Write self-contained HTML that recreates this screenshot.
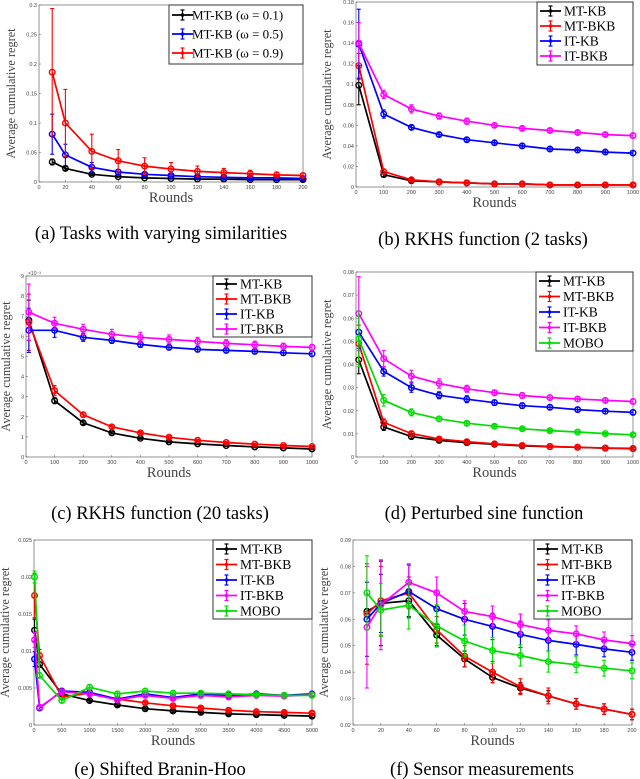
<!DOCTYPE html>
<html><head><meta charset="utf-8">
<style>
body{margin:0;background:#fff;}
svg{display:block;font-family:"Liberation Serif",serif;}
</style></head>
<body>
<svg id="fig" width="640" height="779" viewBox="0 0 640 779" xmlns="http://www.w3.org/2000/svg"></svg>
<script>
const COL={"MT-KB":"#000","MT-BKB":"#f00","IT-KB":"#00f","IT-BKB":"#f0f","MOBO":"#0d0"};
// (a)
const aX=[10,20,40,60,80,100,120,140,160,180,200];
const aRed=[.186,.100,.052,.036,.027,.022,.018,.016,.014,.012,.011];
const aRedErr=[.108,.057,.029,.019,.014,.011,.009,.007,.006,.005,.004];
const aBlue=[.081,.046,.025,.017,.013,.011,.009,.008,.007,.007,.006];
const aBlueErr=[.034,.018,.008,.004,.003,.002,.002,.002,.002,.002,.002];
const aBlack=[.034,.023,.013,.009,.007,.006,.005,.005,.004,.004,.004];
const aBlackErr=[.005,.003,.002,.001,.001,.001,.001,.001,.001,.001,.001];
const aTicksX=[0,20,40,60,80,100,120,140,160,180,200];
const aTicksY=[0,.05,.1,.15,.2,.25,.3];
// (b)
const bX=[10,100,200,300,400,500,600,700,800,900,1000];
const bBlack=[.099,.012,.006,.005,.004,.003,.003,.002,.002,.002,.002];
const bRed=[.118,.015,.007,.005,.004,.003,.003,.002,.002,.002,.002];
const bBlue=[.139,.071,.058,.051,.046,.043,.040,.037,.036,.034,.033];
const bMag=[.140,.090,.076,.069,.064,.060,.057,.055,.053,.051,.050];
const bBlackErr=[.019,.002,.001,.001,.001,.001,.001,.001,.001,.001,.001];
const bRedErr=[.012,.002,.001,.001,.001,.001,.001,.001,.001,.001,.001];
const bBlueErr=[.034,.004,.002,.002,.002,.002,.002,.002,.002,.002,.002];
const bMagErr=[.02,.004,.004,.003,.003,.002,.002,.002,.002,.002,.002];
const bTicksX=[0,100,200,300,400,500,600,700,800,900,1000];
const bTicksY=[0,.02,.04,.06,.08,.1,.12,.14,.16,.18];
// (c) units 1e-3
const cBlack=[6.8,2.8,1.7,1.2,.93,.75,.65,.57,.5,.45,.4];
const cRed=[6.7,3.3,2.1,1.5,1.2,.98,.83,.72,.64,.57,.52];
const cBlue=[6.3,6.3,5.95,5.8,5.6,5.45,5.35,5.3,5.25,5.18,5.13];
const cMag=[7.2,6.65,6.35,6.1,5.95,5.85,5.75,5.65,5.58,5.5,5.45];
const cBlackErr=[1.0,.15,.08,.06,.05,.05,.04,.04,.04,.04,.04];
const cRedErr=[1.4,.25,.1,.08,.07,.06,.05,.05,.05,.05,.05];
const cBlueErr=[1.1,.35,.2,.15,.15,.12,.12,.12,.12,.12,.12];
const cMagErr=[1.4,.3,.25,.25,.25,.22,.2,.18,.18,.16,.15];
const cTicksY=[0,1,2,3,4,5,6,7,8,9];
// (d)
const dBlack=[.042,.013,.0088,.0072,.0062,.0055,.0048,.0045,.0042,.0038,.0036];
const dRed=[.049,.015,.0101,.0078,.0066,.0057,.0050,.0046,.0042,.0039,.0037];
const dBlue=[.054,.037,.030,.0267,.025,.0235,.0222,.0215,.0205,.0198,.0193];
const dMag=[.062,.0425,.035,.0318,.0295,.0278,.0266,.0257,.0251,.0245,.024];
const dGreen=[.051,.0245,.0193,.0165,.0146,.0133,.0122,.0114,.0108,.0101,.0096];
const dBlackErr=[.006,.0015,.0008,.0006,.0005,.0005,.0004,.0004,.0004,.0004,.0004];
const dRedErr=[.008,.0015,.0008,.0006,.0005,.0005,.0004,.0004,.0004,.0004,.0004];
const dBlueErr=[.007,.002,.002,.0015,.0015,.0012,.0012,.001,.001,.001,.001];
const dMagErr=[.016,.0035,.0025,.002,.0015,.0012,.0012,.001,.001,.001,.001];
const dGreenErr=[.012,.0025,.0015,.001,.0008,.0007,.0006,.0006,.0005,.0005,.0005];
const dTicksY=[0,.01,.02,.03,.04,.05,.06,.07,.08];
// (e)
const eX=[10,100,500,1000,1500,2000,2500,3000,3500,4000,4500,5000];
const eBlack=[.0128,.0082,.0042,.0033,.0027,.0022,.0019,.0017,.0015,.0014,.0013,.0012];
const eRed=[.0175,.0094,.0038,.0043,.0035,.0030,.0026,.0023,.0020,.0018,.0017,.0016];
const eBlue=[.0089,.0023,.0046,.0044,.0035,.0042,.0037,.0042,.0040,.0042,.0040,.0042];
const eMag=[.0115,.0024,.0045,.0042,.0034,.0040,.0036,.0040,.0038,.0040,.0039,.0041];
const eGreen=[.0200,.0067,.0033,.0051,.0042,.0046,.0043,.0043,.0042,.0041,.0040,.0040];
const eBlackErr=[.0015,.0004,.0003,.0002,.0002,.0002,.0002,.0002,.0002,.0002,.0002,.0002];
const eRedErr=[.003,.0008,.0003,.0002,.0002,.0002,.0002,.0002,.0002,.0002,.0002,.0002];
const eBlueErr=[.001,.0003,.0003,.0003,.0003,.0003,.0003,.0003,.0003,.0003,.0003,.0003];
const eMagErr=[.001,.0003,.0003,.0003,.0003,.0003,.0003,.0003,.0003,.0003,.0003,.0003];
const eGreenErr=[.0008,.0003,.0003,.0003,.0003,.0003,.0003,.0003,.0003,.0003,.0003,.0003];
const eTicksX=[0,500,1000,1500,2000,2500,3000,3500,4000,4500,5000];
const eTicksY=[0,.005,.01,.015,.02,.025];
// (f)
const fBlack=[.063,.066,.067,.054,.045,.038,.034,.031,.028,.026,.024];
const fRed=[.062,.067,.070,.056,.046,.040,.0345,.031,.028,.026,.024];
const fBlue=[.060,.066,.0705,.064,.060,.0573,.0543,.052,.0505,.0488,.0475];
const fMag=[.057,.0655,.074,.070,.063,.061,.058,.0558,.0545,.0522,.0508];
const fGreen=[.070,.0635,.0653,.0575,.0518,.0482,.0463,.0440,.0428,.0415,.0405];
const fBlackErr=[.001,.016,.006,.004,.003,.002,.002,.002,.002,.002,.002];
const fRedErr=[.019,.013,.006,.005,.004,.004,.003,.003,.002,.002,.002];
const fBlueErr=[.014,.011,.010,.007,.006,.005,.005,.004,.004,.003,.003];
const fMagErr=[.023,.017,.007,.006,.004,.004,.004,.004,.003,.003,.003];
const fGreenErr=[.014,.010,.009,.008,.006,.005,.004,.004,.003,.003,.003];
const fTicksY=[.02,.03,.04,.05,.06,.07,.08,.09];

const NS="http://www.w3.org/2000/svg";
const svg=document.getElementById('fig');
function mk(tag,attrs,parent,text){const e=document.createElementNS(NS,tag);for(const k in attrs)e.setAttribute(k,attrs[k]);if(text!==undefined)e.textContent=text;(parent||svg).appendChild(e);return e;}
function fmt(v){let s=String(+v.toFixed(4));if(s.startsWith("0."))s=s.slice(1);return v===0?"0":(v<1?"0"+s:s);}

function plot(p){
  const g=mk('g',{});
  
  
  const sx=v=>p.x0+(v-p.xmin)/(p.xmax-p.xmin)*(p.x1-p.x0);
  const sy=v=>p.y1-(v-p.ymin)/(p.ymax-p.ymin)*(p.y1-p.y0);
  const box=mk('rect',{x:p.x0,y:p.y0,width:p.x1-p.x0,height:p.y1-p.y0,fill:'none',stroke:'#666','stroke-width':0.7},g);
  
  p.tx.forEach(t=>{const x=sx(t);mk('line',{x1:x,x2:x,y1:p.y1,y2:p.y1-2,stroke:'#555','stroke-width':.5},g);
    const tl=mk('text',{x:x,y:p.y1+7,'font-size':5.5,'text-anchor':'middle',fill:'#444','font-family':'Liberation Sans'},g,String(t));
    });
  p.ty.forEach(t=>{const y=sy(t);mk('line',{x1:p.x0,x2:p.x0+2,y1:y,y2:y,stroke:'#555','stroke-width':.5},g);
    const tl=mk('text',{x:p.x0-2,y:y+2,'font-size':5.5,'text-anchor':'end',fill:'#444','font-family':'Liberation Sans'},g,p.intTicks?String(t):fmt(t));
    });
  if(p.exp){const ex=mk('text',{x:p.x0+2,y:p.y0-1,'font-size':5,fill:'#444','font-family':'Liberation Sans'},g,'×10⁻³');}
  const xl=mk('text',{x:(p.x0+p.x1)/2,y:p.y1+20,'font-size':14.5,'text-anchor':'middle',fill:'#444'},g,'Rounds');
  
  const yc=(p.y0+p.y1)/2;
  const yl=mk('text',{x:p.ylx,y:yc,'font-size':12.3,'text-anchor':'middle',fill:'#444',transform:`rotate(-90 ${p.ylx} ${yc})`},g,'Average cumulative regret');
  
  p.series.forEach(s=>{
    const sg=mk('g',{},g);
    
    
    const pts=s.y.map((v,i)=>sx(p.xs[i]).toFixed(1)+','+sy(v).toFixed(1)).join(' ');
    mk('polyline',{points:pts,fill:'none',stroke:s.c,'stroke-width':1.7},sg);
    s.y.forEach((v,i)=>{const x=sx(p.xs[i]),e=s.e[i];const ya=sy(v+e),yb=sy(v-e);
      mk('line',{x1:x,x2:x,y1:ya,y2:yb,stroke:s.c,'stroke-width':1.1},sg);
      mk('line',{x1:x-2,x2:x+2,y1:ya,y2:ya,stroke:s.c,'stroke-width':1.1},sg);
      mk('line',{x1:x-2,x2:x+2,y1:yb,y2:yb,stroke:s.c,'stroke-width':1.1},sg);
      const m=mk('circle',{cx:x,cy:sy(v),r:2.8,fill:'none',stroke:s.c,'stroke-width':1.4},sg);
      });
  });
  const L=p.leg;
  const lg=mk('g',{},g);
  mk('rect',{x:L.x,y:p.y0,width:p.x1-L.x,height:L.h,fill:'#fff',stroke:'#333','stroke-width':1},lg);
  p.series.forEach((s,i)=>{const y=p.y0+L.first+i*L.dy;
    const eg=mk('g',{},lg);
    mk('line',{x1:L.x+3,x2:L.x+24,y1:y,y2:y,stroke:s.c,'stroke-width':1.7},eg);
    mk('line',{x1:L.x+13.5,x2:L.x+13.5,y1:y-5,y2:y+5,stroke:s.c,'stroke-width':1.2},eg);
    mk('line',{x1:L.x+11.5,x2:L.x+15.5,y1:y-5,y2:y-5,stroke:s.c,'stroke-width':1.2},eg);
    mk('line',{x1:L.x+11.5,x2:L.x+15.5,y1:y+5,y2:y+5,stroke:s.c,'stroke-width':1.2},eg);
    mk('circle',{cx:L.x+13.5,cy:y,r:1.8,fill:s.c},eg);
    mk('text',{x:L.x+L.tx,y:y+4.5,'font-size':L.fs,fill:'#000'},eg,s.label);});
  const cap=mk('text',{x:p.capx,y:p.capy,'font-size':18.5,'text-anchor':'middle',fill:'#000'},g,p.caption);
  
}
const S=(l,y,e)=>({label:l,c:COL[l],y:y,e:e});

plot({name:'plot-a',x0:39,x1:303,y0:5,y1:182,xmin:0,xmax:200,ymin:0,ymax:.3,xs:aX,tx:aTicksX,ty:aTicksY,ylx:15,
  series:[{label:'MT-KB (ω = 0.1)',c:'#000',y:aBlack,e:aBlackErr},{label:'MT-KB (ω = 0.5)',c:'#00f',y:aBlue,e:aBlueErr},{label:'MT-KB (ω = 0.9)',c:'#f00',y:aRed,e:aRedErr}],
  leg:{x:169,h:59,first:10,dy:19,fs:13,tx:23},caption:'(a)  Tasks with varying similarities',capx:161,capy:239});
plot({name:'plot-b',x0:356,x1:633,y0:2,y1:187,xmin:0,xmax:1000,ymin:0,ymax:.18,xs:bX,tx:bTicksX,ty:bTicksY,ylx:331,
  series:[S('MT-KB',bBlack,bBlackErr),S('MT-BKB',bRed,bRedErr),S('IT-KB',bBlue,bBlueErr),S('IT-BKB',bMag,bMagErr)],
  leg:{x:537,h:63,first:9,dy:15,fs:13.5,tx:27},caption:'(b)  RKHS function (2 tasks)',capx:483,capy:245});
plot({name:'plot-c',x0:26,x1:312,y0:276,y1:457,xmin:0,xmax:1000,ymin:0,ymax:9,xs:bX,tx:bTicksX,ty:cTicksY,intTicks:true,exp:true,ylx:10,
  series:[S('MT-KB',cBlack,cBlackErr),S('MT-BKB',cRed,cRedErr),S('IT-KB',cBlue,cBlueErr),S('IT-BKB',cMag,cMagErr)],
  leg:{x:213,h:61,first:8,dy:15,fs:13.5,tx:27},caption:'(c)  RKHS function (20 tasks)',capx:160,capy:519});
plot({name:'plot-d',x0:356,x1:633,y0:272,y1:457,xmin:0,xmax:1000,ymin:0,ymax:.08,xs:bX,tx:bTicksX,ty:dTicksY,ylx:331,
  series:[S('MT-KB',dBlack,dBlackErr),S('MT-BKB',dRed,dRedErr),S('IT-KB',dBlue,dBlueErr),S('IT-BKB',dMag,dMagErr),S('MOBO',dGreen,dGreenErr)],
  leg:{x:536,h:79,first:9,dy:15.5,fs:13.5,tx:27},caption:'(d)  Perturbed sine function',capx:484,capy:519});
plot({name:'plot-e',x0:34,x1:312,y0:540,y1:725,xmin:0,xmax:5000,ymin:0,ymax:.025,xs:eX,tx:eTicksX,ty:eTicksY,ylx:9,
  series:[S('MT-KB',eBlack,eBlackErr),S('MT-BKB',eRed,eRedErr),S('IT-KB',eBlue,eBlueErr),S('IT-BKB',eMag,eMagErr),S('MOBO',eGreen,eGreenErr)],
  leg:{x:213,h:79,first:9,dy:15.5,fs:13.5,tx:27},caption:'(e)  Shifted Branin-Hoo',capx:160,capy:775});
plot({name:'plot-f',x0:353,x1:632,y0:540,y1:725,xmin:0,xmax:200,ymin:.02,ymax:.09,xs:aX,tx:aTicksX,ty:fTicksY,ylx:328,
  series:[S('MT-KB',fBlack,fBlackErr),S('MT-BKB',fRed,fRedErr),S('IT-KB',fBlue,fBlueErr),S('IT-BKB',fMag,fMagErr),S('MOBO',fGreen,fGreenErr)],
  leg:{x:534,h:79,first:9,dy:15.5,fs:13.5,tx:27},caption:'(f)  Sensor measurements',capx:482,capy:775});
</script>
</body></html>
